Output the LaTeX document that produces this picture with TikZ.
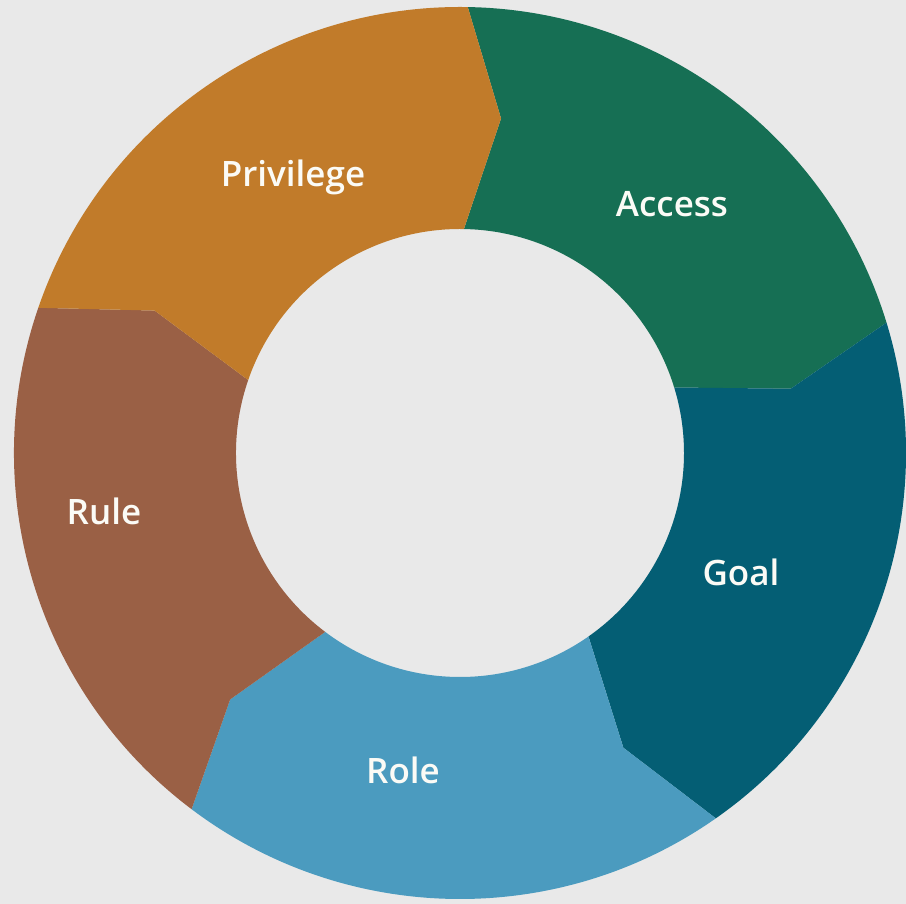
\documentclass[tikz,border=0pt]{standalone}
\usepackage{fontspec}
\setmainfont{Open Sans}[BoldFont={Open Sans Semibold}]
\definecolor{bgcol}{HTML}{E9E9E9}
\definecolor{privcol}{HTML}{C17B2A}
\definecolor{accesscol}{HTML}{166F54}
\definecolor{goalcol}{HTML}{045E74}
\definecolor{rolecol}{HTML}{4B9BBF}
\definecolor{rulecol}{HTML}{9A6045}
\definecolor{labelcol}{HTML}{FBFBF6}
\newcommand{\Rout}{446pt}
\newcommand{\Rin}{224pt}
\newcommand{\Rmid}{337pt}
% one ring segment from angle #1 clockwise over 72 degrees, with arrow notches
\newcommand{\ringseg}[2]{%
  \fill[#2] (#1:\Rout) arc[start angle=#1, end angle=#1-72, radius=\Rout]
    -- ({#1-78}:\Rmid) -- ({#1-72}:\Rin)
    arc[start angle=#1-72, end angle=#1, radius=\Rin]
    -- ({#1-6}:\Rmid) -- cycle;}
\tikzset{seglabel/.style={text=labelcol, font=\bfseries\fontsize{35}{40}\selectfont, anchor=base, inner sep=0pt}}
\begin{document}
\begin{tikzpicture}
\fill[bgcol] (-460pt,-451pt) rectangle (446pt,453pt);
\useasboundingbox (-460pt,-451pt) rectangle (446pt,453pt);
\ringseg{89}{accesscol}
\ringseg{17}{goalcol}
\ringseg{-55}{rolecol}
\ringseg{-127}{rulecol}
\ringseg{-199}{privcol}
\node[seglabel] (privilege) at (-167pt,266pt) {Privilege};
\node[seglabel] (access) at (212pt,236pt) {Access};
\node[seglabel] (goal) at (281pt,-133pt) {Goal};
\node[seglabel] (role) at (-57pt,-331pt) {Role};
\node[seglabel] (rule) at (-356pt,-72pt) {Rule};
\end{tikzpicture}
\end{document}
